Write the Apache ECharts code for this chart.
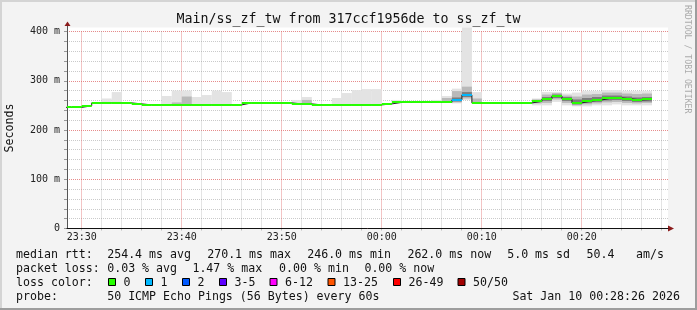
<!DOCTYPE html>
<html><head><meta charset="utf-8">
<script src="https://cdn.jsdelivr.net/npm/echarts@6/dist/echarts.min.js"></script>
<style>html,body{margin:0;padding:0;background:#f3f3f3}#c{width:697px;height:310px}</style>
</head><body><div id="c"></div>
<script>
// ---- DATA ----
// step start, minutes after 23:00 (60 = 00:00)
const minutes = [28,29,30,31,32,33,34,35,36,37,38,39,40,41,42,43,44,45,46,47,48,49,50,51,52,53,54,55,56,57,58,59,60,61,62,63,64,65,66,67,68,69,70,71,72,73,74,75,76,77,78,79,80,81,82,83,84,85,86];
const median  = [246,246,249,255,255,255,255,253,251,251,251,251,251,251,251,251,251,251,255,255,255,255,255,253,253,251,251,251,251,251,251,251,253,256,256,256,256,256,256,261,271,255,255,255,255,255,255,258,263,269,263,255,259,261,265,265,263,261,262];
const lossCnt = [0,0,0,0,0,0,0,0,0,0,0,0,0,0,0,0,0,0,0,0,0,0,0,0,0,0,0,0,0,0,0,0,0,0,0,0,0,0,0,1,1,0,0,0,0,0,0,0,0,0,0,0,0,0,0,0,0,0,0];
// smoke (ping spread) bands, ms; null = none visible
const outerLo = [null,null,null,null,254,254,null,null,null,null,250,250,249,250,250,250,250,null,null,null,null,null,null,252,251,null,null,250,250,250,250,250,null,255,null,null,null,255,255,254,261,254,null,null,null,null,null,250,250,257,250,248,248,250,250,252,250,250,250];
const outerHi = [null,null,null,null,264,277,null,null,null,null,269,280,280,267,271,280,277,null,null,null,null,null,null,261,267,null,null,265,275,281,283,283,null,261,null,null,null,261,269,284,420,277,null,null,null,null,null,264,277,277,274,276,279,279,281,281,279,279,279];
const midLo   = [null,null,null,null,null,null,null,null,null,null,null,250,250,null,null,null,null,null,null,null,null,null,null,null,252,null,null,null,null,null,null,null,null,null,null,null,null,null,256,256,264,255,null,null,null,null,null,254,255,262,255,250,252,254,256,257,255,254,255];
const midHi   = [null,null,null,null,null,null,null,null,null,null,null,256,268,null,null,null,null,null,null,null,null,null,null,null,261,null,null,null,null,null,null,null,null,null,null,null,null,null,265,279,288,264,null,null,null,null,null,262,272,275,270,268,272,273,276,276,274,273,274];
const innerLo = [null,null,null,null,null,null,null,null,null,null,null,null,null,null,null,null,null,null,null,null,null,null,null,null,null,null,null,null,null,null,null,null,null,null,null,null,null,null,null,258,267,null,null,null,null,null,null,null,259,265,259,252,255,257,260,261,259,257,258];
const innerHi = [null,null,null,null,null,null,null,null,null,null,null,null,null,null,null,null,null,null,null,null,null,null,null,null,null,null,null,null,null,null,null,null,null,null,null,null,null,null,null,266,277,null,null,null,null,null,null,null,267,272,267,262,265,267,270,270,268,266,267];

const xTickValues = [30,40,50,60,70,80];
const xTickLabels = ['23:30','23:40','23:50','00:00','00:10','00:20'];
const yTickValues = [0,100,200,300,400];
const yTickLabels = ['0','100 m','200 m','300 m','400 m'];

const lossLabels = ['0','1','2','3-5','6-12','13-25','26-49','50/50'];
const lossColors = ['#26ff00','#00b8ff','#0059ff','#5e00ff','#ff00fe','#ff5500','#ff0000','#a10000'];

const titleText = 'Main/ss_zf_tw from 317ccf1956de to ss_zf_tw';
const rttStats  = ['254.4 ms avg','270.1 ms max','246.0 ms min','262.0 ms now','5.0 ms sd','50.4','am/s'];
const lossStats = ['0.03 % avg','1.47 % max','0.00 % min','0.00 % now'];
const probeText = '50 ICMP Echo Pings (56 Bytes) every 60s';
const dateText  = 'Sat Jan 10 00:28:26 2026';

// ---- RENDER ----
const MONO = '"DejaVu Sans Mono", monospace';
const chart = echarts.init(document.getElementById('c'), null, {renderer:'canvas'});

function bandData(lo, hi){
  const out = [];
  minutes.forEach((t,i)=>{ if(lo[i]!=null && hi[i]!=null) out.push([t, lo[i], hi[i]]); });
  return out;
}
function bandRender(color){
  return function(params, api){
    const t = api.value(0), lo = api.value(1), hi = api.value(2);
    const a = api.coord([t, hi]);
    const b = api.coord([t+1, lo]);
    const cs = params.coordSys;
    const r = echarts.graphic.clipRectByRect(
      {x:a[0], y:a[1], width:b[0]-a[0], height:b[1]-a[1]},
      {x:cs.x, y:cs.y-4, width:cs.width, height:cs.height+4});
    if(!r) return;
    return {type:'rect', shape:r, style:{fill:color}};
  };
}
const medData = minutes.map((t,i)=>[t, median[i], lossCnt[i]]);
const stepLine = minutes.map((t,i)=>[t, median[i]]);
stepLine.push([minutes[minutes.length-1]+1, median[median.length-1]]);

const RED = 'rgba(225,110,110,0.8)', GRY = 'rgba(150,150,150,0.5)';

const g = [];
// frame
g.push({type:'rect', shape:{x:0,y:0,width:697,height:2}, style:{fill:'#d4d4d4'}, silent:true});
g.push({type:'rect', shape:{x:0,y:0,width:2,height:310}, style:{fill:'#d4d4d4'}, silent:true});
g.push({type:'rect', shape:{x:695,y:0,width:2,height:310}, style:{fill:'#9d9d9d'}, silent:true});
g.push({type:'rect', shape:{x:0,y:308,width:697,height:2}, style:{fill:'#9d9d9d'}, silent:true});
// white canvas strip above 400 (plot area extends a few px above top gridline)
g.push({type:'rect', z:-1, shape:{x:67,y:27.5,width:601,height:4}, style:{fill:'#ffffff'}, silent:true});
// title
g.push({type:'text', x:348.5, y:20, style:{text:titleText, font:'13.3px '+MONO, fill:'#111', align:'center', verticalAlign:'middle'}});
// y name
g.push({type:'text', x:10, y:128, rotation:Math.PI/2, style:{text:'Seconds', font:'11.6px '+MONO, fill:'#111', align:'center', verticalAlign:'middle'}});
// watermark
g.push({type:'text', x:687, y:5, rotation:-Math.PI/2, style:{text:'RRDTOOL / TOBI OETIKER', font:'8.2px '+MONO, fill:'#aaaaaa', align:'left', verticalAlign:'middle'}});
// axis arrows
g.push({type:'line', shape:{x1:67.5,y1:31.5,x2:67.5,y2:25}, style:{stroke:'#555', lineWidth:1}});
g.push({type:'polygon', shape:{points:[[64.5,26],[70.5,26],[67.5,21.5]]}, style:{fill:'#8b1c1c'}});
g.push({type:'polygon', shape:{points:[[668,225.5],[668,231.5],[674,228.5]]}, style:{fill:'#8b1c1c'}});
// legend text rows
const T = (txt,x,y)=>({type:'text', x:x, y:y, style:{text:txt, font:'11.6px '+MONO, fill:'#111', align:'left', verticalAlign:'middle'}});
g.push(T('median rtt:',16,254.5));
[107.2,207.2,307.2,407.4,507.2,586.5,636].forEach((x,i)=>g.push(T(rttStats[i],x,254.5)));
g.push(T('packet loss:',16,268.5));
[107.2,192.4,279.1,364.4].forEach((x,i)=>g.push(T(lossStats[i],x,268.5)));
g.push(T('loss color:',16,282.5));
[108.5,145.5,182.5,219.5,270,328,393.5,458].forEach((x,i)=>{
  g.push({type:'rect', shape:{x:x,y:278.5,width:7,height:7}, style:{fill:lossColors[i], stroke:'#000', lineWidth:1}});
  g.push(T(lossLabels[i], x+15, 282.5));
});
g.push(T('probe:',16,296.5));
g.push(T(probeText,107.2,296.5));
g.push(T(dateText,512.4,296.5));

const option = {
  backgroundColor:'#f3f3f3',
  animation:false,
  grid:[
    {left:67, top:31.5, width:601, height:197, show:true, backgroundColor:'#ffffff', borderWidth:0},
    {left:81.7, top:31.5, width:580, height:197, show:false}
  ],
  xAxis:[
    {gridIndex:0, type:'value', min:28.53, max:88.6, z:5,
     axisLine:{show:true, onZero:false, lineStyle:{color:'#111', width:1}},
     axisTick:{show:false}, axisLabel:{show:false}, splitLine:{show:false}},
    {gridIndex:1, type:'value', min:30, max:88, interval:2,
     axisLine:{show:false},
     axisTick:{show:true, length:2, lineStyle:{color:'#bbbbbb'}},
     axisLabel:{show:true, margin:4, fontFamily:'DejaVu Sans Mono', fontSize:10, color:'#222',
       formatter:v=>{const k=xTickValues.indexOf(Math.round(v)); return k<0?'':xTickLabels[k];}},
     splitLine:{show:true, lineStyle:{color:[RED,GRY,GRY,GRY,GRY], type:[1,1], width:1}}}
  ],
  yAxis:[
    {gridIndex:0, type:'value', min:0, max:400, interval:20,
     axisLine:{show:true, lineStyle:{color:'#555', width:1}},
     axisTick:{show:true, length:3, lineStyle:{color:'#999'}},
     axisLabel:{margin:7, fontFamily:'DejaVu Sans Mono', fontSize:10, color:'#222',
       formatter:v=>{const k=yTickValues.indexOf(Math.round(v)); return k<0?'':yTickLabels[k];}},
     splitLine:{show:true, lineStyle:{color:[RED,GRY,GRY,GRY,GRY], type:[1,1], width:1}}},
    {gridIndex:1, type:'value', min:0, max:1, show:false}
  ],
  series:[
    {type:'custom', xAxisIndex:0, yAxisIndex:0, clip:false, data:bandData(outerLo,outerHi), renderItem:bandRender('#e3e3e3'), z:2, silent:true},
    {type:'custom', xAxisIndex:0, yAxisIndex:0, data:bandData(midLo,midHi), renderItem:bandRender('#b9b9b9'), z:2, silent:true},
    {type:'custom', xAxisIndex:0, yAxisIndex:0, data:bandData(innerLo,innerHi), renderItem:bandRender('#7c7c7c'), z:2, silent:true},
    {type:'line', xAxisIndex:0, yAxisIndex:0, data:stepLine, step:'end', showSymbol:false, symbol:'none',
     lineStyle:{color:'#202020', width:1}, z:3, silent:true},
    {type:'custom', xAxisIndex:0, yAxisIndex:0, data:medData, z:4, silent:true,
     renderItem:(params, api)=>{
       const t=api.value(0), m=api.value(1), l=api.value(2);
       const a=api.coord([t,m]), b=api.coord([t+1,m]);
       const cs=params.coordSys;
       const x0=Math.max(a[0], cs.x), x1=Math.min(b[0], cs.x+cs.width);
       if(x1<=x0) return;
       return {type:'rect', shape:{x:x0, y:Math.round(a[1])-1, width:x1-x0, height:2}, style:{fill:lossColors[l]}};
     }}
  ],
  graphic:{elements:g}
};
chart.setOption(option);
</script></body></html>
